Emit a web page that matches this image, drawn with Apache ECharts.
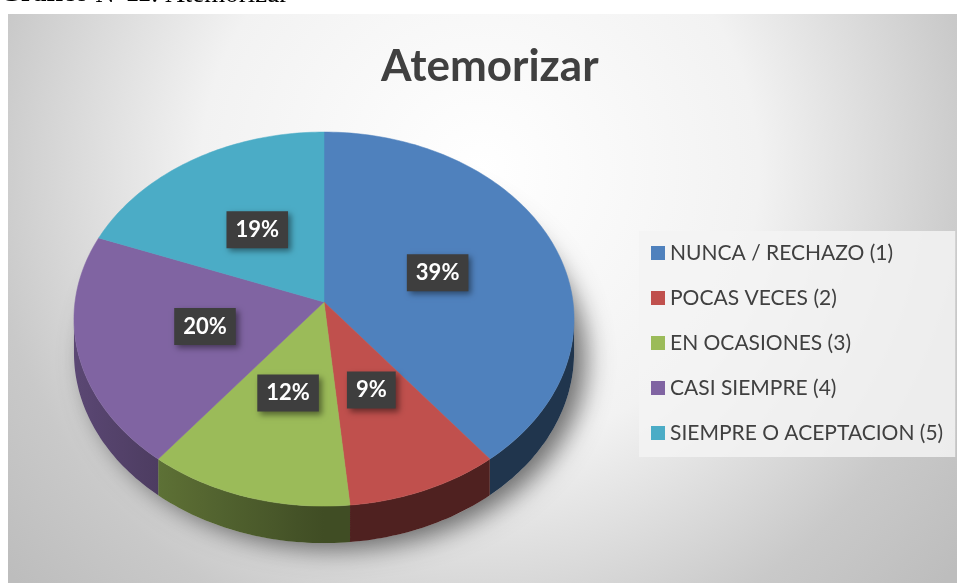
<!DOCTYPE html>
<html>
<head>
<meta charset="utf-8">
<script src="https://cdn.jsdelivr.net/npm/echarts@6/dist/echarts.min.js"></script>
<style>
  html, body { margin: 0; padding: 0; background: #fff; }
  #chart { width: 957px; height: 583px; }
</style>
</head>
<body>
<div id="chart"></div>
<script>
// data
var categories = ['NUNCA / RECHAZO (1)', 'POCAS VECES (2)', 'EN OCASIONES (3)', 'CASI SIEMPRE (4)', 'SIEMPRE O ACEPTACION (5)'];
var values = [39, 9, 12, 20, 19];
var colors = ['#4f81bd', '#c0504d', '#9bbb59', '#8064a2', '#4bacc6'];

// tilted pie geometry (perspective look like the office 3D pie)
var CX = 324, CY = 302, RX = 249, RY = 185.5, PERSP = 0.0912, DEPTH = 33.6;
var total = values.reduce(function (a, b) { return a + b; }, 0);

function proj(t, r, drop) {
    var d = 1 + PERSP * r * Math.cos(t);
    return [CX + RX * r * Math.sin(t) / d, CY + (-RY * r * Math.cos(t) + drop) / d];
}

function shade(hex, f) {
    var n = parseInt(hex.slice(1), 16);
    var r = Math.round(((n >> 16) & 255) * f);
    var g = Math.round(((n >> 8) & 255) * f);
    var b = Math.round((n & 255) * f);
    return 'rgb(' + r + ',' + g + ',' + b + ')';
}

// side is lit from the left, darker on the right
function sideFactor(t) {
    var sm = Math.sin(t);
    return sm > 0 ? 0.41 : 0.41 + 0.31 * (-sm);
}

function renderSlice(params, api) {
    var i = params.dataIndex;
    var before = 0;
    for (var j = 0; j < i; j++) before += values[j];
    var a0 = before / total * Math.PI * 2;
    var a1 = (before + api.value(0)) / total * Math.PI * 2;
    var children = [];
    var k, t;

    // soft shadow under the whole pie, drawn once
    if (i === 0) {
        var ring = [];
        for (k = 0; k <= 180; k++) ring.push(proj(k / 180 * Math.PI * 2, 1, DEPTH));
        children.push({
            type: 'polygon',
            shape: { points: ring },
            style: {
                fill: '#c4c4c4',
                shadowBlur: 26,
                shadowColor: 'rgba(0,0,0,0.55)',
                shadowOffsetX: 12,
                shadowOffsetY: 6
            }
        });
    }

    // visible side wall
    var vis0 = Math.acos(-PERSP), vis1 = Math.PI * 2 - vis0;
    var s = Math.max(a0, vis0), e = Math.min(a1, vis1);
    if (e > s) {
        var n = Math.ceil((e - s) / 0.02);
        var upper = [], lower = [];
        for (k = 0; k <= n; k++) {
            t = s + (e - s) * k / n;
            upper.push(proj(t, 1, 0));
            lower.unshift(proj(t, 1, DEPTH));
        }
        var xs = upper[0][0], xe = upper[n][0];
        var stops = [];
        for (k = 0; k <= 8; k++) {
            t = s + (e - s) * k / 8;
            var off = (proj(t, 1, 0)[0] - xs) / (xe - xs);
            stops.push({ offset: Math.min(1, Math.max(0, off)), color: shade(colors[i], sideFactor(t)) });
        }
        children.push({
            type: 'polygon',
            shape: { points: upper.concat(lower) },
            style: {
                fill: { type: 'linear', x: xs, y: 0, x2: xe, y2: 0, global: true, colorStops: stops }
            }
        });
    }

    // top face
    var pts = [proj(0, 0, 0)];
    var steps = Math.max(4, Math.ceil((a1 - a0) / 0.02));
    for (k = 0; k <= steps; k++) {
        t = a0 + (a1 - a0) * k / steps;
        pts.push(proj(t, 1, 0));
    }
    children.push({
        type: 'polygon',
        shape: { points: pts },
        style: { fill: colors[i], stroke: colors[i], lineWidth: 0.5 }
    });

    // data label
    var mid = (a0 + a1) / 2;
    var p = proj(mid, 0.49, 0);
    children.push({
        type: 'text',
        x: p[0],
        y: p[1],
        z2: 10,
        style: {
            text: Math.round(api.value(0) / total * 100) + '%',
            font: 'bold 22px Lato',
            fill: '#ffffff',
            align: 'center',
            verticalAlign: 'middle',
            backgroundColor: '#3e3e3e',
            padding: [8, 9, 7, 9],
            shadowBlur: 6,
            shadowColor: 'rgba(0,0,0,0.45)',
            shadowOffsetX: 3,
            shadowOffsetY: 3
        }
    });

    return { type: 'group', children: children };
}

var chart = echarts.init(document.getElementById('chart'));

chart.setOption({
    animation: false,
    color: colors,
    graphic: [
        {
            type: 'rect',
            z: -10,
            shape: { x: 8, y: 14, width: 949, height: 569 },
            style: {
                fill: {
                    type: 'radial', x: 480, y: 170, r: 620, global: true,
                    colorStops: [
                        { offset: 0, color: '#ffffff' },
                        { offset: 0.45, color: '#f2f2f2' },
                        { offset: 0.8, color: '#c9c9c9' },
                        { offset: 1, color: '#bdbdbd' }
                    ]
                }
            }
        },
        {
            // document caption, cut off by the top edge
            type: 'text',
            left: 0,
            top: -19,
            style: {
                text: '{b|Gráfico} N°{b|11}: Atemorizar',
                font: '27px "Liberation Serif"',
                fill: '#000',
                rich: {
                    b: { font: 'bold 27px "Liberation Serif"', fill: '#000' }
                }
            }
        }
    ],
    title: {
        text: 'Atemorizar',
        left: 376,
        top: 40,
        textStyle: { fontFamily: 'Lato', fontWeight: 'bold', fontSize: 44, color: '#404040' }
    },
    legend: {
        orient: 'vertical',
        left: 639,
        top: 231,
        padding: [10, 12, 12, 12],
        itemGap: 21,
        itemWidth: 14,
        itemHeight: 14,
        icon: 'rect',
        selectedMode: false,
        backgroundColor: 'rgba(243,243,243,0.85)',
        textStyle: { fontFamily: 'Lato', fontSize: 21, color: '#404040', lineHeight: 24 },
        data: categories
    },
    series: [
        {
            // only feeds the legend
            type: 'pie',
            center: [-50, -50],
            radius: 1,
            silent: true,
            label: { show: false },
            labelLine: { show: false },
            data: categories.map(function (c, i) { return { name: c, value: values[i] }; })
        },
        {
            type: 'custom',
            coordinateSystem: 'none',
            silent: true,
            renderItem: renderSlice,
            data: values.map(function (v, i) { return { name: categories[i], value: v }; })
        }
    ]
});
</script>
</body>
</html>
